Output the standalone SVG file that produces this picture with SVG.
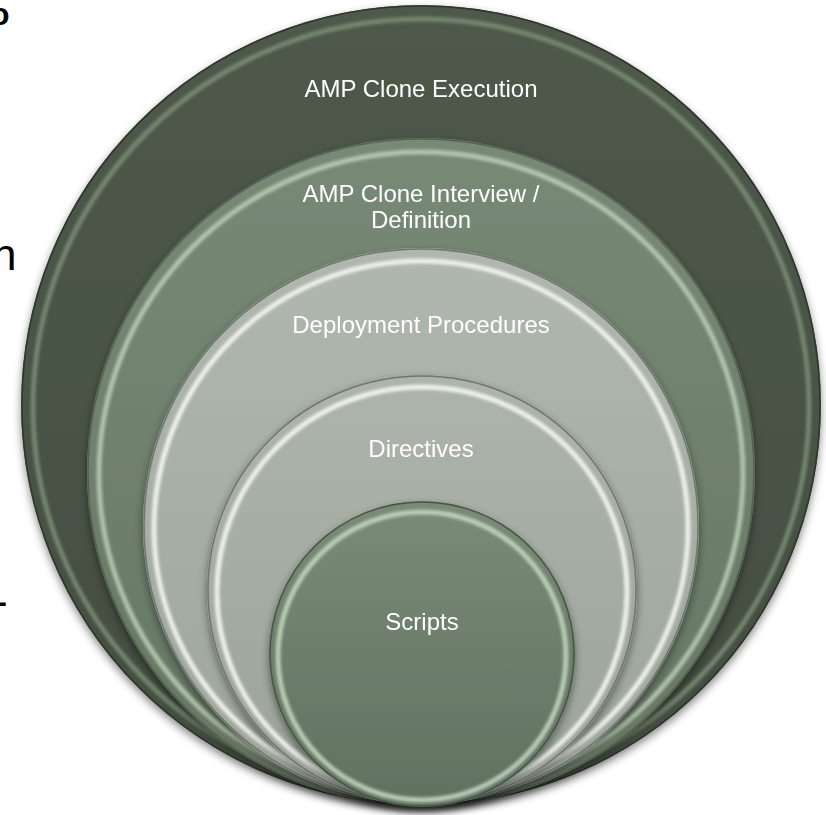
<svg xmlns="http://www.w3.org/2000/svg" width="826" height="815" viewBox="0 0 826 815">
<style>
.lbl{font-family:"Liberation Sans",Arial,sans-serif;fill:#ffffff;text-anchor:middle;font-size:24px}
.frag{font-family:"Liberation Sans",Arial,sans-serif;fill:#000000}
.rim{fill:none;stroke-width:5}
.edge{fill:none;stroke-width:1.5}
</style>
<defs>
<filter id="shadow" x="-10%" y="-10%" width="120%" height="125%">
<feDropShadow dx="0" dy="4" stdDeviation="4" flood-color="#000" flood-opacity="0.45"/>
</filter>
<filter id="soft" x="-5%" y="-5%" width="110%" height="110%">
<feGaussianBlur stdDeviation="1.8"/>
</filter>
<linearGradient id="g1" x1="0" y1="0" x2="0" y2="1">
<stop offset="0" stop-color="#4e5a4b"/><stop offset="1" stop-color="#434d40"/>
</linearGradient>
<linearGradient id="g2" x1="0" y1="0" x2="0" y2="1">
<stop offset="0" stop-color="#788a76"/><stop offset="1" stop-color="#667663"/>
</linearGradient>
<linearGradient id="g3" x1="0" y1="0" x2="0" y2="1">
<stop offset="0" stop-color="#b0b7ae"/><stop offset="1" stop-color="#9ea69c"/>
</linearGradient>
<linearGradient id="g4" x1="0" y1="0" x2="0" y2="1">
<stop offset="0" stop-color="#adb4ab"/><stop offset="1" stop-color="#9ca49a"/>
</linearGradient>
<linearGradient id="g5" x1="0" y1="0" x2="0" y2="1">
<stop offset="0" stop-color="#7a8c77"/><stop offset="1" stop-color="#607160"/>
</linearGradient>
</defs>

<text class="frag" x="-10" y="25" font-size="32" font-weight="bold">o</text>
<text class="frag" x="-8" y="270" font-size="44">n</text>
<text class="frag" x="-7" y="616" font-size="44">-</text>

<g id="node-execution" filter="url(#shadow)">
<circle cx="421" cy="405" r="400" fill="url(#g1)"/>
<circle class="rim" cx="421" cy="407" r="388" stroke="#7f9279" opacity="0.8" filter="url(#soft)"/>
<circle class="edge" cx="421" cy="405" r="399" stroke="#2f372d"/>
<text class="lbl" x="421" y="97">AMP Clone Execution</text>
</g>

<g id="node-interview" filter="url(#shadow)">
<circle cx="421" cy="472" r="334" fill="url(#g2)"/>
<circle class="rim" cx="421" cy="474" r="322" stroke="#c2d4bc" opacity="0.8" filter="url(#soft)"/>
<circle class="edge" cx="421" cy="472" r="333" stroke="#55614f"/>
<text class="lbl" x="421" y="202" font-size="22.5">AMP Clone Interview /</text>
<text class="lbl" x="421" y="228" font-size="22.5">Definition</text>
</g>

<g id="node-deployment" filter="url(#shadow)">
<circle cx="421" cy="526" r="278" fill="url(#g3)"/>
<circle class="rim" cx="421" cy="528" r="267" stroke="#f4f8f2" opacity="0.9" filter="url(#soft)"/>
<circle class="edge" cx="421" cy="526" r="277" stroke="#6f746d"/>
<text class="lbl" x="421" y="333">Deployment Procedures</text>
</g>

<g id="node-directives" filter="url(#shadow)">
<circle cx="422" cy="590" r="215" fill="url(#g4)"/>
<circle class="rim" cx="422" cy="592" r="205" stroke="#f4f8f2" opacity="0.9" filter="url(#soft)"/>
<circle class="edge" cx="422" cy="590" r="214" stroke="#6f746d"/>
<text class="lbl" x="421" y="457">Directives</text>
</g>

<g id="node-scripts" filter="url(#shadow)">
<circle cx="422" cy="654" r="153" fill="url(#g5)"/>
<circle class="rim" cx="422" cy="656" r="144" stroke="#c8dac2" opacity="0.85" filter="url(#soft)"/>
<circle class="edge" cx="422" cy="654" r="152" stroke="#4a5547"/>
<text class="lbl" x="422" y="630">Scripts</text>
</g>

<g id="connectors"></g>
</svg>
